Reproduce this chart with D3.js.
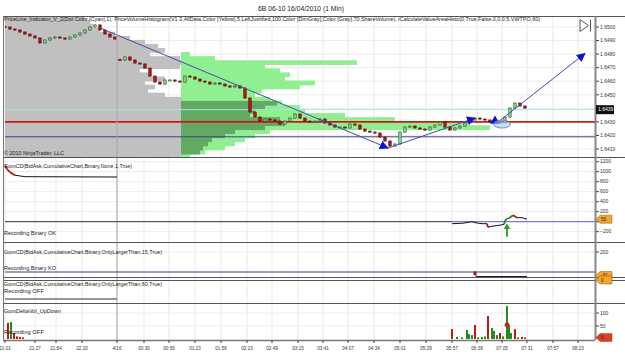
<!DOCTYPE html>
<html>
<head>
<meta charset="utf-8">
<script src="https://cdn.jsdelivr.net/npm/d3@7"></script>
<style>
body { margin: 0; background: #fff; }
svg { display: block; font-family: "Liberation Sans", Arial, sans-serif; }
</style>
</head>
<body>
<svg id="chart" width="625" height="361"></svg>
<script>
// ---- data ----
var timeLabels = ["21:01","21:27","21:54","22:20","4/16","00:30","00:56","01:23","01:56","02:23","02:49","03:15",
                  "03:41","04:07","04:34","05:01","05:29","05:57","06:39","07:05","07:31","07:57","08:23"];
var timeTickBars = [0,30,51,77,112,139,164,190,216,242,267,293,318,343,369,395,421,447,472,497,522,548,573];
var sessionBreakBar = 112;

var priceTicks = [1.6410,1.6420,1.6430,1.6440,1.6450,1.6460,1.6470,1.6480,1.6490,1.6500];
var lastPrice = 1.6439;

// one close every 5 bars
var barStep = 5;
var sessionOpenBar = 115;
var closes = [
  1.65000,1.64985,1.64978,1.64963,1.64948,1.64934,1.64919,1.64882,1.64904,1.64919,
  1.64926,1.64919,1.64911,1.64926,1.64941,1.64956,1.64978,1.65000,1.65015,1.64978,
  1.64948,1.64926,1.64911,1.64756,1.64779,1.64756,1.64734,1.64727,1.64697,1.64638,
  1.64594,1.64579,1.64609,1.64609,1.64601,1.64594,1.64638,1.64631,1.64616,1.64601,
  1.64594,1.64579,1.64587,1.64579,1.64565,1.64557,1.64565,1.64550,1.64476,1.64373,
  1.64336,1.64306,1.64321,1.64314,1.64306,1.64284,1.64306,1.64328,1.64358,1.64328,
  1.64306,1.64299,1.64306,1.64321,1.64292,1.64277,1.64262,1.64262,1.64255,1.64284,
  1.64277,1.64247,1.64232,1.64225,1.64218,1.64188,1.64159,1.64122,1.64137,1.64225,
  1.64262,1.64269,1.64255,1.64247,1.64240,1.64262,1.64277,1.64299,1.64262,1.64240,
  1.64255,1.64269,1.64292,1.64314,1.64328,1.64321,1.64314,1.64299,1.64292,1.64299,
  1.64336,1.64402,1.64439,1.64417,1.64402
];

// volume profiles (rows of 3 ticks)
var histLevels = [1.6507,1.6504,1.6501,1.6498,1.6495,1.6492,1.6489,1.6486,1.6483,1.6480,
                  1.6477,1.6474,1.6471,1.6468,1.6465,1.6462,1.6459,1.6456,1.6453,1.6450,
                  1.6447,1.6444,1.6441,1.6438,1.6435,1.6432,1.6429,1.6426,1.6423,1.6420,
                  1.6417,1.6414,1.6411,1.6408,1.6405];
var grayVol  = [80,85,88,95,110,125,140,153,160,145,175,176,175,135,145,160,140,150,143,160,
                176,176,176,176,176,176,176,176,176,176,176,176,176,176,176];
var greenVol = [0,0,0,0,0,0,0,0,0,9,34,176,84,99,109,104,134,119,81,74,
                89,101,119,124,164,214,289,309,89,74,64,54,44,24,9];
var greenVA  = [0,0,0,0,0,0,0,0,0,0,0,0,0,0,0,0,0,0,0,0,
                0,96,84,74,69,99,104,84,54,44,31,27,22,19,0];
var grayStartBar = 0, greenStartBar = 176;

var cyanLevel = 1.6439, redLevel = 1.6430, navyLevel = 1.6419;

// drawn trend lines [bar, price]
var trendA = [[95, 1.64993], [383, 1.64107]];
var trendB = [[383, 1.64107], [470, 1.64328]];
var trendC = [[493, 1.64299], [580, 1.64805]];
var upMarker = [490, 1.64306];
var circleMark = [497, 1.64284];

// GomCD panels
var cdTicks = [-200,0,200,400,600,800,1000,1200];
var prevCdBars = [0,2,5,10,20,112];
var prevCdVals = [1130,1050,990,930,900,894];
var cdBars = [447,458,467,470,477,482,483,487,495,499,501,504,508,512,517,522];
var cdVals = [-40,-30,0,-20,-40,-40,-110,-90,-70,-50,50,70,130,80,80,50];
var cdSignalBar = 502;

var cd15Ticks = [200];
var prevCd15Bars = [2,112];
var prevCd15Vals = [500,500];
var cd15Bars = [470,471,522];
var cd15Vals = [-15,-45,-45];

var prevCd60Bars = [0,112];
var prevCd60Vals = [0,0];

// GomDeltaVol_UpDown
var dvTicks = [50,100];
var dvBars = [3,6,9,12,15,18,447,452,457,462,464,467,470,473,477,480,483,487,489,492,495,498,502,504,506,510,513,517,520];
var dvVals = [-62,65,-23,-10,-8,-6,-38,8,6,35,19,15,-54,6,8,10,-88,42,31,15,-23,10,127,54,23,-38,6,-8,-6];
var dvDotBar = 502, dvDotVal = 54;

// ---- layout ----
var svg = d3.select("#chart");
var left = 5, right = 595;
var p1 = {top: 16, bottom: 157}, p2 = {top: 157, bottom: 242}, p3 = {top: 243, bottom: 277},
    p4 = {top: 280, bottom: 303}, p5 = {top: 303, bottom: 340};

var x = d3.scaleLinear().domain([0, 590]).range([left, right]);
var yP = d3.scaleLinear().domain([1.6410, 1.6500]).range([149, 27]);
var yCd = d3.scaleLinear().domain([0, 1200]).range([221.7, 161.7]);
var yCd15 = d3.scaleLinear().domain([0, 200]).range([272, 252]);
var yCd60 = d3.scaleLinear().domain([0, 100]).range([299, 289]);
var yDv = d3.scaleLinear().domain([0, 100]).range([339, 313]);
var histW = d3.scaleLinear().domain([0, 100]).range([0, 100]);

var defs = svg.append("defs");
[["c1", p1], ["c2", p2], ["c3", p3], ["c4", p4], ["c5", p5]].forEach(function(c) {
  defs.append("clipPath").attr("id", c[0]).append("rect")
      .attr("x", left).attr("y", c[1].top).attr("width", right - left).attr("height", c[1].bottom - c[1].top);
});
defs.append("marker")
    .attr("id", "arrow").attr("viewBox", "0 0 10 10").attr("refX", 9).attr("refY", 5)
    .attr("markerUnits", "userSpaceOnUse").attr("markerWidth", 9).attr("markerHeight", 9)
    .attr("orient", "auto")
  .append("path").attr("d", "M0,0L10,5L0,10z").attr("fill", "#1010d0");

// title
svg.append("text").attr("x", 258).attr("y", 10.5).attr("font-size", 7.5)
    .attr("textLength", 86).attr("lengthAdjust", "spacingAndGlyphs").attr("fill", "#222")
    .text("6B 06-10  16/04/2010 (1 Min)");

// vertical grid
svg.append("g").selectAll("line").data(timeTickBars).enter().append("line")
    .attr("x1", function(d) { return x(d); }).attr("x2", function(d) { return x(d); })
    .attr("y1", p1.top).attr("y2", p5.bottom)
    .attr("stroke", "#e9e9e9").attr("stroke-width", 1);

// horizontal grids
function hgrid(scale, ticks, clip) {
  svg.append("g").attr("clip-path", "url(#" + clip + ")").selectAll("line").data(ticks).enter().append("line")
      .attr("x1", left).attr("x2", right)
      .attr("y1", function(d) { return scale(d); }).attr("y2", function(d) { return scale(d); })
      .attr("stroke", "#ececec");
}
hgrid(yP, priceTicks, "c1");
hgrid(yCd, cdTicks, "c2");
hgrid(yCd15, cd15Ticks, "c3");
hgrid(yDv, dvTicks, "c5");

// ---- price panel ----
var main = svg.append("g").attr("clip-path", "url(#c1)");
var rows = histLevels.map(function(p, i) {
  return {p: p, gray: grayVol[i], green: greenVol[i], va: greenVA[i]};
});
function rowY(d) { return yP(d.p + 0.00015); }
function rowH(d) { return yP(d.p - 0.00015) - yP(d.p + 0.00015) + 0.7; }

main.append("g").selectAll("rect").data(rows).enter().append("rect")
    .attr("x", x(grayStartBar)).attr("y", rowY).attr("height", rowH)
    .attr("width", function(d) { return histW(d.gray); })
    .attr("fill", "#c0c0c0");
main.append("g").selectAll("rect").data(rows.filter(function(d) { return d.green > 0; })).enter().append("rect")
    .attr("x", x(greenStartBar)).attr("y", rowY).attr("height", rowH)
    .attr("width", function(d) { return histW(d.green); })
    .attr("fill", "#90ef90");
main.append("g").selectAll("rect").data(rows.filter(function(d) { return d.va > 0; })).enter().append("rect")
    .attr("x", x(greenStartBar)).attr("y", rowY).attr("height", rowH)
    .attr("width", function(d) { return histW(d.va); })
    .attr("fill", "#62aa62");

// session break
svg.append("line").attr("x1", x(sessionBreakBar)).attr("x2", x(sessionBreakBar))
    .attr("y1", p1.top).attr("y2", p5.bottom).attr("stroke", "#a8a8a8");

// level lines
[[cyanLevel, "#a6e4ec", 1], [redLevel, "#d01818", 1.6], [navyLevel, "#3c3c8c", 1]].forEach(function(l) {
  main.append("line").attr("x1", left).attr("x2", right)
      .attr("y1", yP(l[0])).attr("y2", yP(l[0]))
      .attr("stroke", l[1]).attr("stroke-width", l[2]);
});

// candles
var candles = closes.map(function(c, i) {
  var bar = i * barStep;
  var o = (i === 0 || bar === sessionOpenBar) ? c + 0.00004 : closes[i - 1];
  return {bar: bar, open: o, close: c};
});
var cg = main.append("g").selectAll("g").data(candles).enter().append("g");
cg.append("line")
    .attr("x1", function(d) { return x(d.bar); }).attr("x2", function(d) { return x(d.bar); })
    .attr("y1", function(d) { return yP(Math.max(d.open, d.close) + 0.00006); })
    .attr("y2", function(d) { return yP(Math.min(d.open, d.close) - 0.00006); })
    .attr("stroke", "#222").attr("stroke-width", 0.7);
cg.append("rect")
    .attr("x", function(d) { return x(d.bar) - 1.3; }).attr("width", 2.6)
    .attr("y", function(d) { return yP(Math.max(d.open, d.close)); })
    .attr("height", function(d) { return Math.max(1, Math.abs(yP(d.open) - yP(d.close))); })
    .attr("fill", function(d) { return d.close >= d.open ? "#7fcf7f" : "#b41414"; })
    .attr("stroke", function(d) { return d.close >= d.open ? "#245e24" : "#5a0a0a"; })
    .attr("stroke-width", 0.5);

// trend lines
var trendLine = d3.line().x(function(d) { return x(d[0]); }).y(function(d) { return yP(d[1]); });
[trendA, trendB, trendC].forEach(function(t) {
  main.append("path").attr("d", trendLine(t)).attr("fill", "none")
      .attr("stroke", "#4848b4").attr("stroke-width", 1).attr("marker-end", "url(#arrow)");
});
main.append("path").attr("d", d3.symbol().type(d3.symbolTriangle).size(40)())
    .attr("transform", "translate(" + x(upMarker[0]) + "," + yP(upMarker[1]) + ")")
    .attr("fill", "#1010d0");
main.append("ellipse").attr("cx", x(circleMark[0])).attr("cy", yP(circleMark[1]))
    .attr("rx", 8.5).attr("ry", 4).attr("fill", "#9cc0ec").attr("fill-opacity", 0.55)
    .attr("stroke", "#4f7fc0").attr("stroke-width", 0.8);

// scroll-to-end glyph
svg.append("path").attr("d", "M580,19.5L588.5,25.5L580,31.5Z").attr("fill", "#fff").attr("stroke", "#555");
svg.append("line").attr("x1", 590.5).attr("x2", 590.5).attr("y1", 19.5).attr("y2", 31.5).attr("stroke", "#555");

// ---- GomCD panel ----
var cdG = svg.append("g").attr("clip-path", "url(#c2)");
cdG.append("line").attr("x1", left).attr("x2", x(cdBars[0])).attr("y1", yCd(0)).attr("y2", yCd(0)).attr("stroke", "#333");
cdG.append("line").attr("x1", x(cdBars[0])).attr("x2", right).attr("y1", yCd(0)).attr("y2", yCd(0)).attr("stroke", "#6a5acd");

function segments(g, bars, vals, scale) {
  for (var i = 1; i < bars.length; i++) {
    var dv = vals[i] - vals[i - 1];
    g.append("line")
        .attr("x1", x(bars[i - 1])).attr("y1", scale(vals[i - 1]))
        .attr("x2", x(bars[i])).attr("y2", scale(vals[i]))
        .attr("stroke", Math.abs(dv) < 40 ? "#111" : (dv > 0 ? "#1c8c1c" : "#b41414"))
        .attr("stroke-width", Math.abs(dv) < 40 ? 1 : 1.8);
  }
}
segments(cdG, prevCdBars, prevCdVals, yCd);
segments(cdG, cdBars, cdVals, yCd);
// long signal arrow
cdG.append("path")
    .attr("d", "M" + x(cdSignalBar) + "," + (yCd(-300)) + "V" + (yCd(-120)))
    .attr("stroke", "#22a022").attr("stroke-width", 1.8);
cdG.append("path")
    .attr("d", d3.symbol().type(d3.symbolTriangle).size(18)())
    .attr("transform", "translate(" + x(cdSignalBar) + "," + yCd(-110) + ")")
    .attr("fill", "#22a022");

// ---- OnlyLargerThan 15 ----
var c15 = svg.append("g").attr("clip-path", "url(#c3)");
c15.append("line").attr("x1", left).attr("x2", right).attr("y1", yCd15(0)).attr("y2", yCd15(0)).attr("stroke", "#3a3a80");
c15.append("path").attr("d", trendLine.y(function(d) { return yCd15(d[1]); })(d3.zip(prevCd15Bars, prevCd15Vals)))
    .attr("stroke", "#aaa").attr("stroke-width", 2.5).attr("fill", "none");
c15.append("path").attr("d", trendLine.y(function(d) { return yCd15(d[1]); })(d3.zip(cd15Bars, cd15Vals)))
    .attr("stroke", "#222").attr("stroke-width", 1).attr("fill", "none");
c15.append("rect").attr("x", x(cd15Bars[0]) - 1.5).attr("y", yCd15(cd15Vals[0]) - 2)
    .attr("width", 3).attr("height", 3.5).attr("fill", "#b41414");

// ---- OnlyLargerThan 60 ----
var c60 = svg.append("g").attr("clip-path", "url(#c4)");
c60.append("path").attr("d", trendLine.y(function(d) { return yCd60(d[1]); })(d3.zip(prevCd60Bars, prevCd60Vals)))
    .attr("stroke", "#333").attr("stroke-width", 1).attr("fill", "none");

// ---- delta volume ----
var dvG = svg.append("g").attr("clip-path", "url(#c5)");
dvG.selectAll("rect").data(d3.zip(dvBars, dvVals)).enter().append("rect")
    .attr("x", function(d) { return x(d[0]) - 1; }).attr("width", 2)
    .attr("y", function(d) { return yDv(Math.abs(d[1])); })
    .attr("height", function(d) { return yDv(0) - yDv(Math.abs(d[1])); })
    .attr("fill", function(d) { return d[1] < 0 ? "#c41616" : "#1e8c1e"; });
dvG.append("circle").attr("cx", x(dvDotBar)).attr("cy", yDv(dvDotVal)).attr("r", 2.4).attr("fill", "#d41a1a");

// ---- frame ----
[p1.top, p2.top, p3.top - 1, p3.bottom, p4.top, p5.top].forEach(function(yy) {
  svg.append("line").attr("x1", 3).attr("x2", 625).attr("y1", yy + 0.5).attr("y2", yy + 0.5).attr("stroke", "#555");
});
svg.append("line").attr("x1", 3).attr("x2", right).attr("y1", p5.bottom + 0.5).attr("y2", p5.bottom + 0.5).attr("stroke", "#777").attr("stroke-width", 1.5);
svg.append("line").attr("x1", 3.5).attr("x2", 3.5).attr("y1", p1.top).attr("y2", p5.bottom).attr("stroke", "#777");
svg.append("line").attr("x1", right + 0.5).attr("x2", right + 0.5).attr("y1", p1.top).attr("y2", p5.bottom).attr("stroke", "#888").attr("stroke-width", 2);

// value tags (positions feed the axis so covered labels are skipped, as in the platform)
var tags = [
  {y: yCd(cdVals[cdVals.length - 1]), fill: "#f3a530", label: "50"},
  {y: yCd15(cd15Vals[cd15Vals.length - 1]) - 1, fill: "#f3a530", label: "-31"},
  {y: p4.top, fill: "#f3a530", label: "0"},
  {y: yDv(6), fill: "#e03a2a", label: "6"}
];
var covered = tags.map(function(t) { return t.y; }).concat([yP(lastPrice)]);

// right axes
function rightAxis(scale, ticks, fmt) {
  var g = svg.append("g");
  ticks.forEach(function(t) {
    var yy = scale(t);
    g.append("line").attr("x1", right + 1).attr("x2", right + 4).attr("y1", yy).attr("y2", yy).attr("stroke", "#444");
    var hidden = covered.some(function(c) { return Math.abs(c - yy) < 6; });
    if (!hidden) {
      g.append("text").attr("x", right + 5).attr("y", yy).attr("dy", "0.35em")
          .attr("font-size", 5).attr("fill", "#333").text(fmt(t));
    }
  });
}
rightAxis(yP, priceTicks, d3.format(".4f"));
rightAxis(yCd, cdTicks, d3.format("d"));
rightAxis(yCd15, cd15Ticks, d3.format("d"));
rightAxis(yDv, dvTicks, d3.format("d"));

// last price box
svg.append("rect").attr("x", right + 1).attr("y", yP(lastPrice) - 4.5).attr("width", 18).attr("height", 9).attr("fill", "#111");
svg.append("text").attr("x", right + 3).attr("y", yP(lastPrice)).attr("dy", "0.35em")
    .attr("font-size", 5).attr("fill", "#fff").text(d3.format(".4f")(lastPrice));

tags.forEach(function(t) {
  svg.append("path").attr("d", "M" + (right + 1) + "," + t.y + "l4,-4h12v8h-12z")
      .attr("fill", t.fill).attr("stroke", "#8a5a00").attr("stroke-width", 0.5);
  svg.append("text").attr("x", right + 6).attr("y", t.y).attr("dy", "0.35em")
      .attr("font-size", 4.5).attr("fill", "#222").text(t.label);
});

// x axis
var xg = svg.append("g");
timeTickBars.forEach(function(b, i) {
  xg.append("line").attr("x1", x(b)).attr("x2", x(b)).attr("y1", p5.bottom).attr("y2", p5.bottom + 3).attr("stroke", "#444");
  xg.append("text").attr("x", x(b)).attr("y", 349.5).attr("text-anchor", "middle")
      .attr("font-size", 4.6).attr("fill", "#333").text(timeLabels[i]);
});

// panel labels
function label(txt, yy, len, size) {
  svg.append("text").attr("x", 4).attr("y", yy).attr("font-size", size || 5.4).attr("fill", "#222")
      .attr("textLength", len).attr("lengthAdjust", "spacingAndGlyphs").text(txt);
}
label("PriceLine_Indicator_V_2(Dot Color [Cyan],1), PriceVolumeHistogram(V1.3,AllData,Color [Yellow],5,LeftJustified,100,Color [DimGray],Color [Gray],70,ShareVolume), iCalculateValueAreaHisto(0,True,False,0,0,0.5,VWTPO,60)", 20.5, 536);
label("\u00a9 2010 NinjaTrader, LLC", 155, 60);
label("GomCD(BidAsk,CumulativeChart,Binary,None,1,True)", 168, 128);
label("Recording Binary OK", 235, 52);
label("GomCD(BidAsk,CumulativeChart,Binary,OnlyLargerThan,15,True)", 254, 158);
label("Recording Binary KO", 270, 52);
label("GomCD(BidAsk,CumulativeChart,Binary,OnlyLargerThan,60,True)", 286, 158);
label("Recording OFF", 293, 40);
label("GomDeltaVol_UpDown", 313, 57);
label("Recording OFF", 334, 40);
</script>
</body>
</html>
